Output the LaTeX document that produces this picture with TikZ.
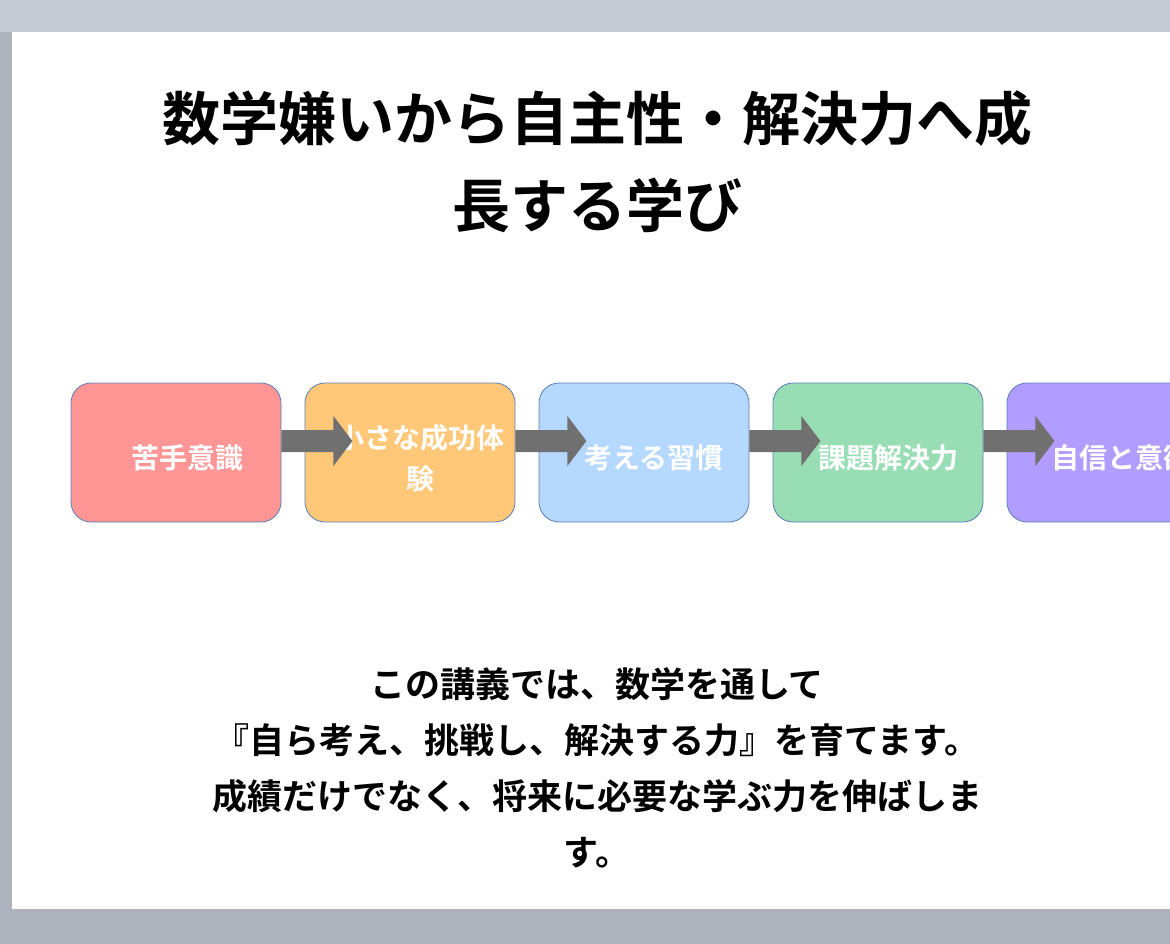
\documentclass[tikz,border=0pt]{standalone}
\usepackage{fontspec}
\setmainfont{Noto Sans CJK JP Bold}
\usetikzlibrary{calc}
\definecolor{bg}{HTML}{ADB2BD}
\definecolor{bgtop}{HTML}{C6CAD2}
\definecolor{c1}{HTML}{FF9696}
\definecolor{c2}{HTML}{FFC878}
\definecolor{c3}{HTML}{B4D8FF}
\definecolor{c4}{HTML}{98DDB4}
\definecolor{c5}{HTML}{B19CFF}
\definecolor{edge}{HTML}{5B7DB5}
\definecolor{arr}{HTML}{707070}
\tikzset{
 box/.style={draw=edge,line width=0.8pt,rounded corners=20pt,minimum width=210pt,minimum height=139pt,inner sep=0pt},
 lbl/.style={text=white,font=\fontsize{28}{41}\selectfont,align=center},
 blk/.style={fill=arr,draw=none}
}
\begin{document}
\begin{tikzpicture}[x=1pt,y=-1pt]
\useasboundingbox (0,0) rectangle (1170,944);
\clip (0,0) rectangle (1170,944);
\fill[bg] (0,0) rectangle (1170,944);
\fill[bgtop] (0,0) rectangle (1170,32);
\fill[white] (12,32) rectangle (1200,909);
\node[font=\fontsize{58}{87}\selectfont,align=center] (title) at (597,162) {数学嫌いから自主性・解決力へ成\\長する学び};
\foreach \i/\c/\x in {1/c1/176,2/c2/410,3/c3/644,4/c4/878,5/c5/1112}{
 \node[box,fill=\c] (b\i) at (\x,452.5) {};
}
\node[lbl] (t1) at (187,458) {苦手意識};
\node[lbl] (t2) at (420,458) {小さな成功体\\験};
\node[lbl] (t3) at (654,458) {考える習慣};
\node[lbl] (t4) at (888,458) {課題解決力};
\node[lbl,anchor=west] (t5) at (1048,458) {自信と意欲};
\foreach \a/\b in {1/2,2/3,3/4,4/5}{
 \fill[blk] ($(b\a.east)+(0,-22.5)$) -- ++(52,0) -- ++(0,-14) -- ++(19,25) -- ++(-19,25) -- ++(0,-14) -- ++(-52,0) -- cycle;
}
\node[font=\fontsize{35}{56}\selectfont,align=center] (body) at (597,768) {この講義では、数学を通して\\『自ら考え、挑戦し、解決する力』を育てます。\\成績だけでなく、将来に必要な学ぶ力を伸ばしま\\す。};
\end{tikzpicture}
\end{document}
